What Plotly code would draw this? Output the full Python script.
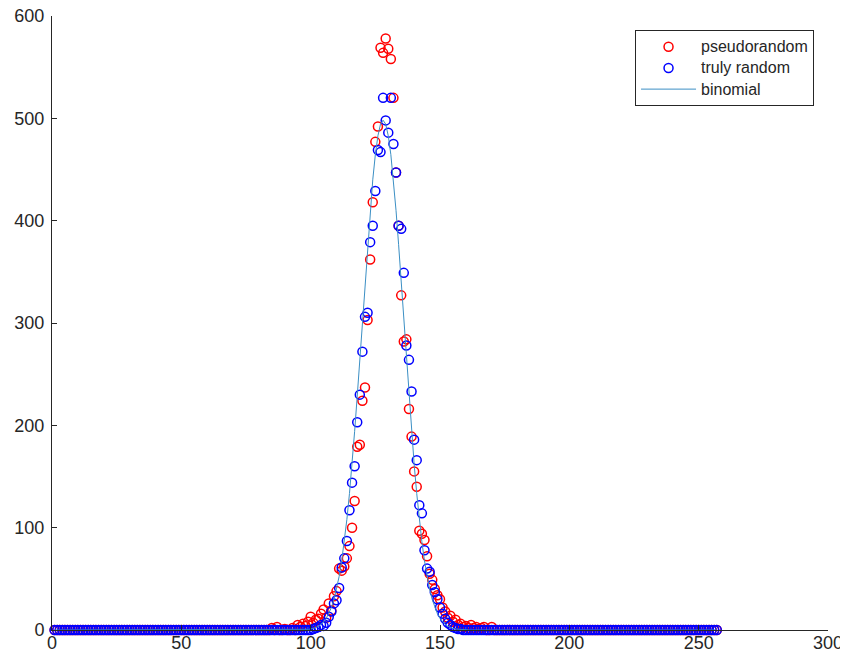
import plotly.graph_objects as go

# x positions 1..257
x_vals = list(range(1, 258))

# pseudorandom counts, nonzero region 85..170
pseudo_start = 85
pseudo_mid = [2, 0, 3, 0, 0, 1, 0, 0, 2, 0, 5, 3, 6, 4, 8, 13, 7, 10, 11, 16,
              20, 12, 26, 19, 33, 38, 60, 58, 62, 70, 82, 100, 126, 179, 181, 224,
              237, 303, 362, 418, 477, 492, 569, 564, 578, 568, 558, 520, 447, 395,
              327, 282, 284, 216, 189, 155, 140, 97, 94, 88, 72, 55, 49, 40, 34, 30,
              22, 18, 12, 14, 8, 10, 5, 6, 3, 4, 2, 5, 2, 3, 1, 2, 3, 0, 0, 3]
pseudorandom = [0] * (pseudo_start - 1) + pseudo_mid
pseudorandom += [0] * (257 - len(pseudorandom))

# truly random counts, nonzero region 100..159
truly_start = 100
truly_mid = [0, 1, 2, 3, 5, 4, 7, 13, 18, 26, 29, 41, 61, 70, 87, 117, 144, 160,
             203, 230, 272, 306, 310, 379, 395, 429, 469, 467, 520, 498, 486, 520,
             475, 447, 395, 392, 349, 278, 264, 233, 186, 166, 122, 114, 78, 60,
             57, 44, 37, 30, 22, 16, 11, 7, 5, 3, 2, 1, 1, 0]
truly_random = [0] * (truly_start - 1) + truly_mid
truly_random += [0] * (257 - len(truly_random))

# binomial curve, nonzero region 97..161
binom_start = 97
binom_mid = [0.3, 0.4, 0.7, 1.0, 1.6, 2.5, 3.7, 5.5, 7.9, 11.3, 15.9, 21.9, 29.7,
             39.7, 52.2, 67.6, 86.2, 108.1, 133.4, 162.2, 194.1, 228.6, 265.1,
             302.7, 340.2, 376.5, 410.1, 439.9, 464.5, 482.9, 494.3, 498.2, 494.3,
             482.9, 464.5, 439.9, 410.1, 376.5, 340.2, 302.7, 265.1, 228.6, 194.1,
             162.2, 133.4, 108.1, 86.2, 67.6, 52.2, 39.7, 29.7, 21.9, 15.9, 11.3,
             7.9, 5.5, 3.7, 2.5, 1.6, 1.0, 0.7, 0.4, 0.3, 0.2, 0.1]
binomial = [0] * (binom_start - 1) + binom_mid
binomial += [0] * (257 - len(binomial))

series_names = ["pseudorandom", "truly random", "binomial"]

x_ticks = [0, 50, 100, 150, 200, 250, 300]
y_ticks = [0, 100, 200, 300, 400, 500, 600]

FONT = "Liberation Sans, Arial, Helvetica, sans-serif"
AX = "#262626"


def legend_label(text):
    return '<span style="font-size:16px">' + text + '</span>'


fig = go.Figure()
fig.add_trace(go.Scatter(
    x=x_vals, y=pseudorandom, mode="markers", name=legend_label(series_names[0]),
    marker=dict(symbol="circle-open", size=9, color="#ff0000",
                line=dict(width=1.5, color="#ff0000")),
    cliponaxis=False))
fig.add_trace(go.Scatter(
    x=x_vals, y=truly_random, mode="markers", name=legend_label(series_names[1]),
    marker=dict(symbol="circle-open", size=9, color="#0000ff",
                line=dict(width=1.5, color="#0000ff")),
    cliponaxis=False))
fig.add_trace(go.Scatter(
    x=x_vals, y=binomial, mode="lines", name=legend_label(series_names[2]),
    line=dict(color="#3b8fc4", width=1), cliponaxis=False))

# page body has an 8px margin, so the figure is 840x655 placed at (8, 8)
fig.update_layout(
    width=840, height=655,
    margin=dict(l=44, r=20, t=8, b=33, autoexpand=False),
    paper_bgcolor="white", plot_bgcolor="white",
    font=dict(family=FONT, size=18, color=AX),
    showlegend=True,
    legend=dict(x=0.982, y=0.977, xanchor="right", yanchor="top",
                bordercolor="#262626", borderwidth=1, bgcolor="white",
                font=dict(size=14, color=AX), itemwidth=55,
                tracegroupgap=0),
    xaxis=dict(range=[0, 300], tickvals=x_ticks, showgrid=False, zeroline=False,
               showline=True, linecolor=AX, linewidth=1, ticks="inside",
               ticklen=5, tickcolor=AX, mirror=False, automargin=False,
               ticklabelstandoff=-4, ticklabeloverflow="allow",
               tickfont=dict(size=18, color=AX)),
    yaxis=dict(range=[0, 600], tickvals=y_ticks, showgrid=False, zeroline=False,
               showline=True, linecolor=AX, linewidth=1, ticks="inside",
               ticklen=5, tickcolor=AX, mirror=False, automargin=False,
               ticklabelstandoff=3, ticklabeloverflow="allow",
               tickfont=dict(size=18, color=AX)),
)

fig.write_html("out.html")
